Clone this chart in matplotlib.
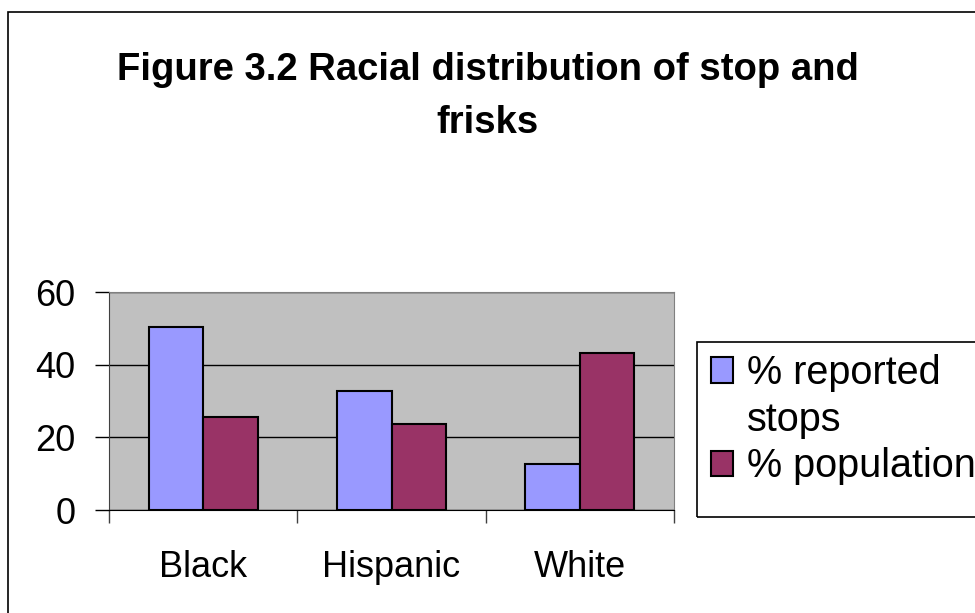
import matplotlib
matplotlib.use("Agg")
import matplotlib.pyplot as plt
from matplotlib.patches import Rectangle
import numpy as np

plt.rcParams["font.family"] = ["Liberation Sans", "DejaVu Sans"]

categories = ["Black", "Hispanic", "White"]
series_names = ["% reported", "% population"]
reported_stops = [50.5, 32.9, 12.6]
population = [25.7, 23.6, 43.4]
y_ticks = [0, 20, 40, 60]

COLORS = ["#9999FF", "#993366"]

fig = plt.figure(figsize=(9.75, 6.13), dpi=100)
fig.patch.set_facecolor("white")

# outer border of the chart area (only top/left visible in the image)
fig.patches.append(Rectangle((8 / 975, -0.05), 1.1, 1.05 - 12 / 613,
                             transform=fig.transFigure, fill=False,
                             edgecolor="black", linewidth=1.2))

fig.text(0.5, 1 - 52 / 613, "Figure 3.2 Racial distribution of stop and\nfrisks",
         ha="center", va="top", fontsize=27.5, fontweight="bold",
         linespacing=1.62)

ax = fig.add_axes([109 / 975, 1 - 510 / 613, 565 / 975, 217.7 / 613])
ax.set_facecolor("#C0C0C0")

x = np.arange(len(categories))
width = 0.29
b1 = ax.bar(x - width / 2, reported_stops, width=width, color=COLORS[0],
            edgecolor="black", linewidth=1.5, zorder=3)
b2 = ax.bar(x + width / 2, population, width=width, color=COLORS[1],
            edgecolor="black", linewidth=1.5, zorder=3)

ax.set_xlim(-0.5, len(categories) - 0.5)
ax.set_ylim(0, 60)
ax.set_yticks(y_ticks)
ax.tick_params(axis="y", labelsize=26, length=10, width=1, pad=14)

ax.set_xticks(x)
ax.set_xticklabels(categories)
ax.tick_params(axis="x", which="major", length=0, labelsize=26, pad=29)
ax.set_xticks(np.arange(-0.5, len(categories)), minor=True)
ax.tick_params(axis="x", which="minor", length=9, width=1, color="#404040")

ax.yaxis.grid(True, color="black", linewidth=1)
ax.set_axisbelow(True)
for side in ["top", "right"]:
    ax.spines[side].set_color("#808080")
ax.spines["left"].set_color("#404040")
ax.spines["bottom"].set_color("black")

# legend box
fig.patches.append(Rectangle((697 / 975, 1 - 517 / 613), 0.35, 175 / 613,
                             transform=fig.transFigure, fill=False,
                             edgecolor="black", linewidth=1.2))
blank = Rectangle((0, 0), 1, 1, fill=False, edgecolor="none")
leg = fig.legend([b1, blank, b2], [series_names[0], "stops", series_names[1]],
                 loc="upper left", bbox_to_anchor=(711 / 975, 1 - 354 / 613),
                 frameon=False, fontsize=28.5, handlelength=0.56,
                 handleheight=0.6, handletextpad=0.35, labelspacing=0.22,
                 borderpad=0, borderaxespad=0)

fig.savefig("out.png", dpi=100)
